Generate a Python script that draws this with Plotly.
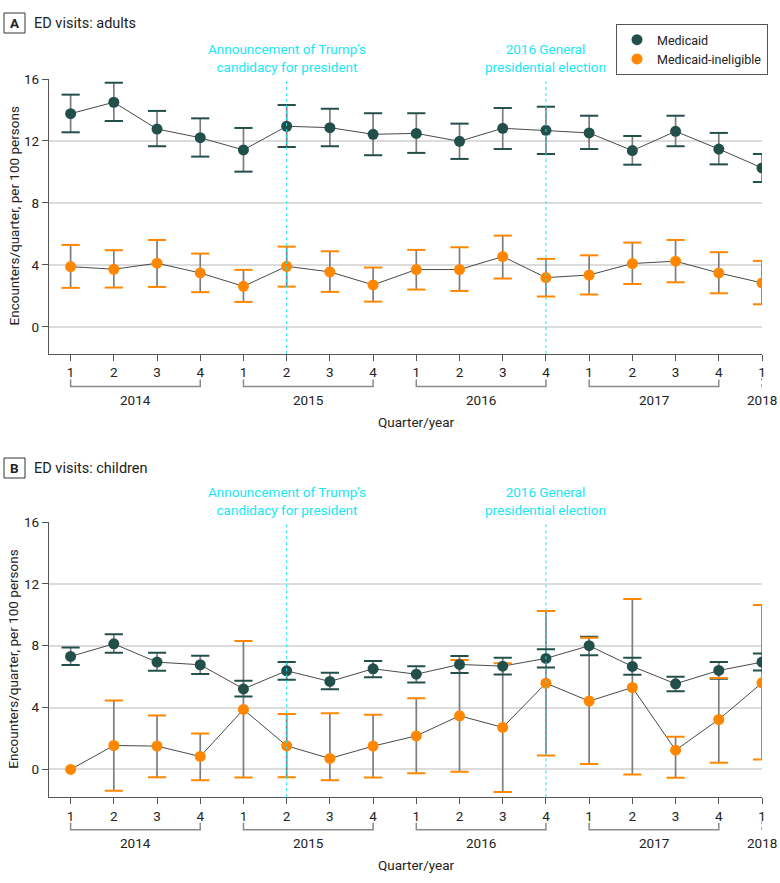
import plotly.graph_objects as go

# ---------------- data ----------------
quarter_labels = ["1", "2", "3", "4", "1", "2", "3", "4", "1", "2", "3", "4", "1", "2", "3", "4", "1"]
years = ["2014", "2015", "2016", "2017", "2018"]
series_names = ["Medicaid", "Medicaid-ineligible"]

adult_medicaid = [13.76, 14.50, 12.77, 12.21, 11.42, 12.95, 12.86, 12.43, 12.49, 11.98, 12.82, 12.69, 12.52, 11.38, 12.62, 11.48, 10.26]
adult_medicaid_lo = [12.56, 13.29, 11.66, 10.99, 10.02, 11.61, 11.66, 11.08, 11.23, 10.84, 11.48, 11.16, 11.48, 10.47, 11.66, 10.49, 9.35]
adult_medicaid_hi = [14.99, 15.76, 13.94, 13.46, 12.84, 14.32, 14.08, 13.79, 13.79, 13.12, 14.13, 14.21, 13.63, 12.32, 13.63, 12.52, 11.16]

adult_inelig = [3.89, 3.72, 4.11, 3.48, 2.62, 3.91, 3.55, 2.71, 3.70, 3.70, 4.54, 3.18, 3.35, 4.09, 4.24, 3.48, 2.84]
adult_inelig_lo = [2.52, 2.54, 2.58, 2.24, 1.61, 2.60, 2.26, 1.63, 2.41, 2.32, 3.12, 1.96, 2.09, 2.77, 2.88, 2.17, 1.46]
adult_inelig_hi = [5.29, 4.95, 5.61, 4.73, 3.68, 5.18, 4.88, 3.83, 4.97, 5.14, 5.89, 4.39, 4.62, 5.44, 5.61, 4.82, 4.26]

child_medicaid = [7.31, 8.12, 6.94, 6.77, 5.21, 6.38, 5.69, 6.51, 6.16, 6.79, 6.68, 7.18, 8.00, 6.66, 5.54, 6.40, 6.94]
child_medicaid_lo = [6.75, 7.54, 6.38, 6.18, 4.72, 5.80, 5.19, 5.97, 5.63, 6.23, 6.14, 6.60, 7.39, 6.12, 5.05, 5.86, 6.40]
child_medicaid_hi = [7.89, 8.75, 7.54, 7.35, 5.73, 6.94, 6.25, 7.02, 6.68, 7.33, 7.22, 7.78, 8.58, 7.22, 5.99, 6.94, 7.50]

child_inelig = [0.00, 1.55, 1.51, 0.84, 3.88, 1.53, 0.71, 1.51, 2.17, 3.47, 2.72, 5.58, 4.42, 5.30, 1.25, 3.23, 5.60]
child_inelig_lo = [None, -1.38, -0.50, -0.69, -0.52, -0.50, -0.69, -0.52, -0.24, -0.15, -1.45, 0.91, 0.36, -0.32, -0.54, 0.43, 0.65]
child_inelig_hi = [None, 4.46, 3.49, 2.33, 8.30, 3.58, 3.64, 3.53, 4.61, 7.07, 6.86, 10.24, 8.51, 11.02, 2.11, 5.92, 10.63]

events = [(5, "Announcement of Trump\u2019s<br>candidacy for president"),
          (11, "2016 General<br>presidential election")]
year_spans = [(0, 3), (4, 7), (8, 11), (12, 15), (16, 16)]

# ---------------- styling ----------------
W, H = 780, 883
L_PX, R_PX = 49, 762
FONT = "Roboto, Open Sans, sans-serif"
FS = 13.5
TEAL = "#234f4b"
ORANGE = "#ff8700"
STEM = "#7d7d7d"
CYAN = "#19e6f5"
GRID = "#dcdcdc"
TXT = "#222222"

def px_x(px):
    return (px - L_PX) / (R_PX - L_PX)

def px_y(py):
    return 1 - py / H

panels = [
    dict(letter="A", title="ED visits: adults", top=79, bottom=354, yr=[-1.75, 16],
         data=[(adult_medicaid, adult_medicaid_lo, adult_medicaid_hi),
               (adult_inelig, adult_inelig_lo, adult_inelig_hi)],
         box=(4, 13, 25, 33), ev_y=58, xa="x", ya="y"),
    dict(letter="B", title="ED visits: children", top=522, bottom=797.3, yr=[-1.8, 16],
         data=[(child_medicaid, child_medicaid_lo, child_medicaid_hi),
               (child_inelig, child_inelig_lo, child_inelig_hi)],
         box=(4, 458, 25, 478), ev_y=501, xa="x2", ya="y2"),
]

xs = list(range(len(quarter_labels)))
colors = [TEAL, ORANGE]
sizes = [11, 11]

fig = go.Figure()
shapes = []
annotations = []

for pi, p in enumerate(panels):
    xa, ya = p["xa"], p["ya"]
    # stems
    for si, (v, lo, hi) in enumerate(p["data"]):
        plus = [(h - val) if h is not None else 0 for val, h in zip(v, hi)]
        minus = [(val - l) if l is not None else 0 for val, l in zip(v, lo)]
        fig.add_trace(go.Scatter(
            x=xs, y=v, mode="markers", xaxis=xa, yaxis=ya, showlegend=False,
            marker=dict(size=1, color="rgba(0,0,0,0)"), hoverinfo="skip",
            error_y=dict(type="data", symmetric=False, array=plus, arrayminus=minus,
                         color=STEM, thickness=1.7, width=0)))
    # connecting lines
    for si, (v, lo, hi) in enumerate(p["data"]):
        fig.add_trace(go.Scatter(
            x=xs, y=v, mode="lines", xaxis=xa, yaxis=ya, showlegend=False,
            line=dict(color="#4a4a4a", width=1), hoverinfo="skip"))
    # caps
    for si, (v, lo, hi) in enumerate(p["data"]):
        for ends in (lo, hi):
            fig.add_trace(go.Scatter(
                x=xs, y=ends, mode="markers", xaxis=xa, yaxis=ya, showlegend=False,
                marker=dict(symbol="line-ew", size=13, line=dict(color=colors[si], width=2)),
                hoverinfo="skip"))
    # markers (inelig first, Medicaid on top)
    for si in (1, 0):
        v = p["data"][si][0]
        fig.add_trace(go.Scatter(
            x=xs, y=v, mode="markers", xaxis=xa, yaxis=ya, name=series_names[si],
            showlegend=(pi == 0), legendrank=si + 1,
            marker=dict(size=sizes[si], color=colors[si])))

    # event lines and labels
    for ex, etxt in events:
        shapes.append(dict(type="line", xref=xa, yref=ya + " domain", x0=ex, x1=ex, y0=0, y1=1,
                           line=dict(color=CYAN, width=1, dash="dot"), layer="above"))
        annotations.append(dict(x=ex, xref=xa, y=px_y(p["ev_y"]), yref="paper", text=etxt,
                                showarrow=False, xanchor="center", yanchor="middle",
                                font=dict(color=CYAN, size=FS, family=FONT)))

    # year brackets
    b = p["bottom"]
    y_h = px_y(b + 32.5)
    y_v = px_y(b + 25.5)
    for (a, c), yr in zip(year_spans, years):
        if a != c:
            shapes.append(dict(type="path", xref=xa, yref="paper",
                               path=f"M {a},{y_v} L {a},{y_h} L {c},{y_h} L {c},{y_v}",
                               line=dict(color="#8a8a8a", width=1.5)))
        else:
            shapes.append(dict(type="line", xref=xa, yref="paper", x0=a, x1=a,
                               y0=px_y(b + 24), y1=px_y(b + 33),
                               line=dict(color="#8a8a8a", width=1.5, dash="dot")))
        annotations.append(dict(x=(a + c) / 2, xref=xa, y=px_y(b + 46), yref="paper", text=yr,
                                showarrow=False, xanchor="center", yanchor="middle",
                                font=dict(color=TXT, size=FS, family=FONT)))
    annotations.append(dict(x=8, xref=xa, y=px_y(b + 67.5), yref="paper", text="Quarter/year",
                            showarrow=False, xanchor="center", yanchor="middle",
                            font=dict(color=TXT, size=FS, family=FONT)))
    # y title
    annotations.append(dict(x=px_x(13), xref="paper", y=px_y((p["top"] + p["bottom"]) / 2),
                            yref="paper", text="Encounters/quarter, per 100 persons",
                            textangle=-90, showarrow=False, xanchor="center", yanchor="middle",
                            font=dict(color=TXT, size=FS, family=FONT)))
    # panel label box + title
    bx0, by0, bx1, by1 = p["box"]
    shapes.append(dict(type="rect", xref="paper", yref="paper",
                       x0=px_x(bx0), x1=px_x(bx1), y0=px_y(by1), y1=px_y(by0),
                       line=dict(color="#333333", width=1)))
    annotations.append(dict(x=px_x((bx0 + bx1) / 2), xref="paper", y=px_y((by0 + by1) / 2),
                            yref="paper", text=f"<b>{p['letter']}</b>", showarrow=False,
                            xanchor="center", yanchor="middle",
                            font=dict(color=TXT, size=13.5, family=FONT)))
    annotations.append(dict(x=px_x(32), xref="paper", y=px_y((by0 + by1) / 2), yref="paper",
                            text=p["title"], showarrow=False, xanchor="left", yanchor="middle",
                            font=dict(color=TXT, size=14.5, family=FONT)))

axis_common = dict(showline=True, linecolor="#555555", linewidth=1.2, ticks="outside",
                   ticklen=6, tickcolor="#555555", tickwidth=1.2, automargin=False,
                   tickfont=dict(size=FS, color=TXT, family=FONT), zeroline=False)

xcommon = dict(axis_common, range=[-0.5, 16], tickvals=xs, ticktext=quarter_labels,
               showgrid=False, fixedrange=True)
ycommon = dict(axis_common, tickvals=[0, 4, 8, 12, 16], showgrid=True, gridcolor=GRID,
               gridwidth=1.5, fixedrange=True)

fig.update_layout(
    width=W, height=H,
    margin=dict(l=L_PX, r=W - R_PX, t=0, b=0, autoexpand=False),
    paper_bgcolor="white", plot_bgcolor="white",
    font=dict(family=FONT, color=TXT),
    xaxis=dict(xcommon, anchor="y"),
    xaxis2=dict(xcommon, anchor="y2"),
    yaxis=dict(ycommon, range=panels[0]["yr"], domain=[px_y(panels[0]["bottom"]), px_y(panels[0]["top"])], anchor="x"),
    yaxis2=dict(ycommon, range=panels[1]["yr"], domain=[px_y(panels[1]["bottom"]), px_y(panels[1]["top"])], anchor="x2"),
    shapes=shapes, annotations=annotations,
    showlegend=True,
    legend=dict(x=px_x(616), y=px_y(24), xanchor="left", yanchor="top",
                bordercolor="#555555", borderwidth=1, bgcolor="white",
                font=dict(size=12.5, color=TXT, family=FONT), tracegroupgap=0,
                itemwidth=30),
)

fig.write_html("out.html", config={"displayModeBar": False},
               post_script="document.body.style.margin='0';document.body.style.overflow='hidden';")
